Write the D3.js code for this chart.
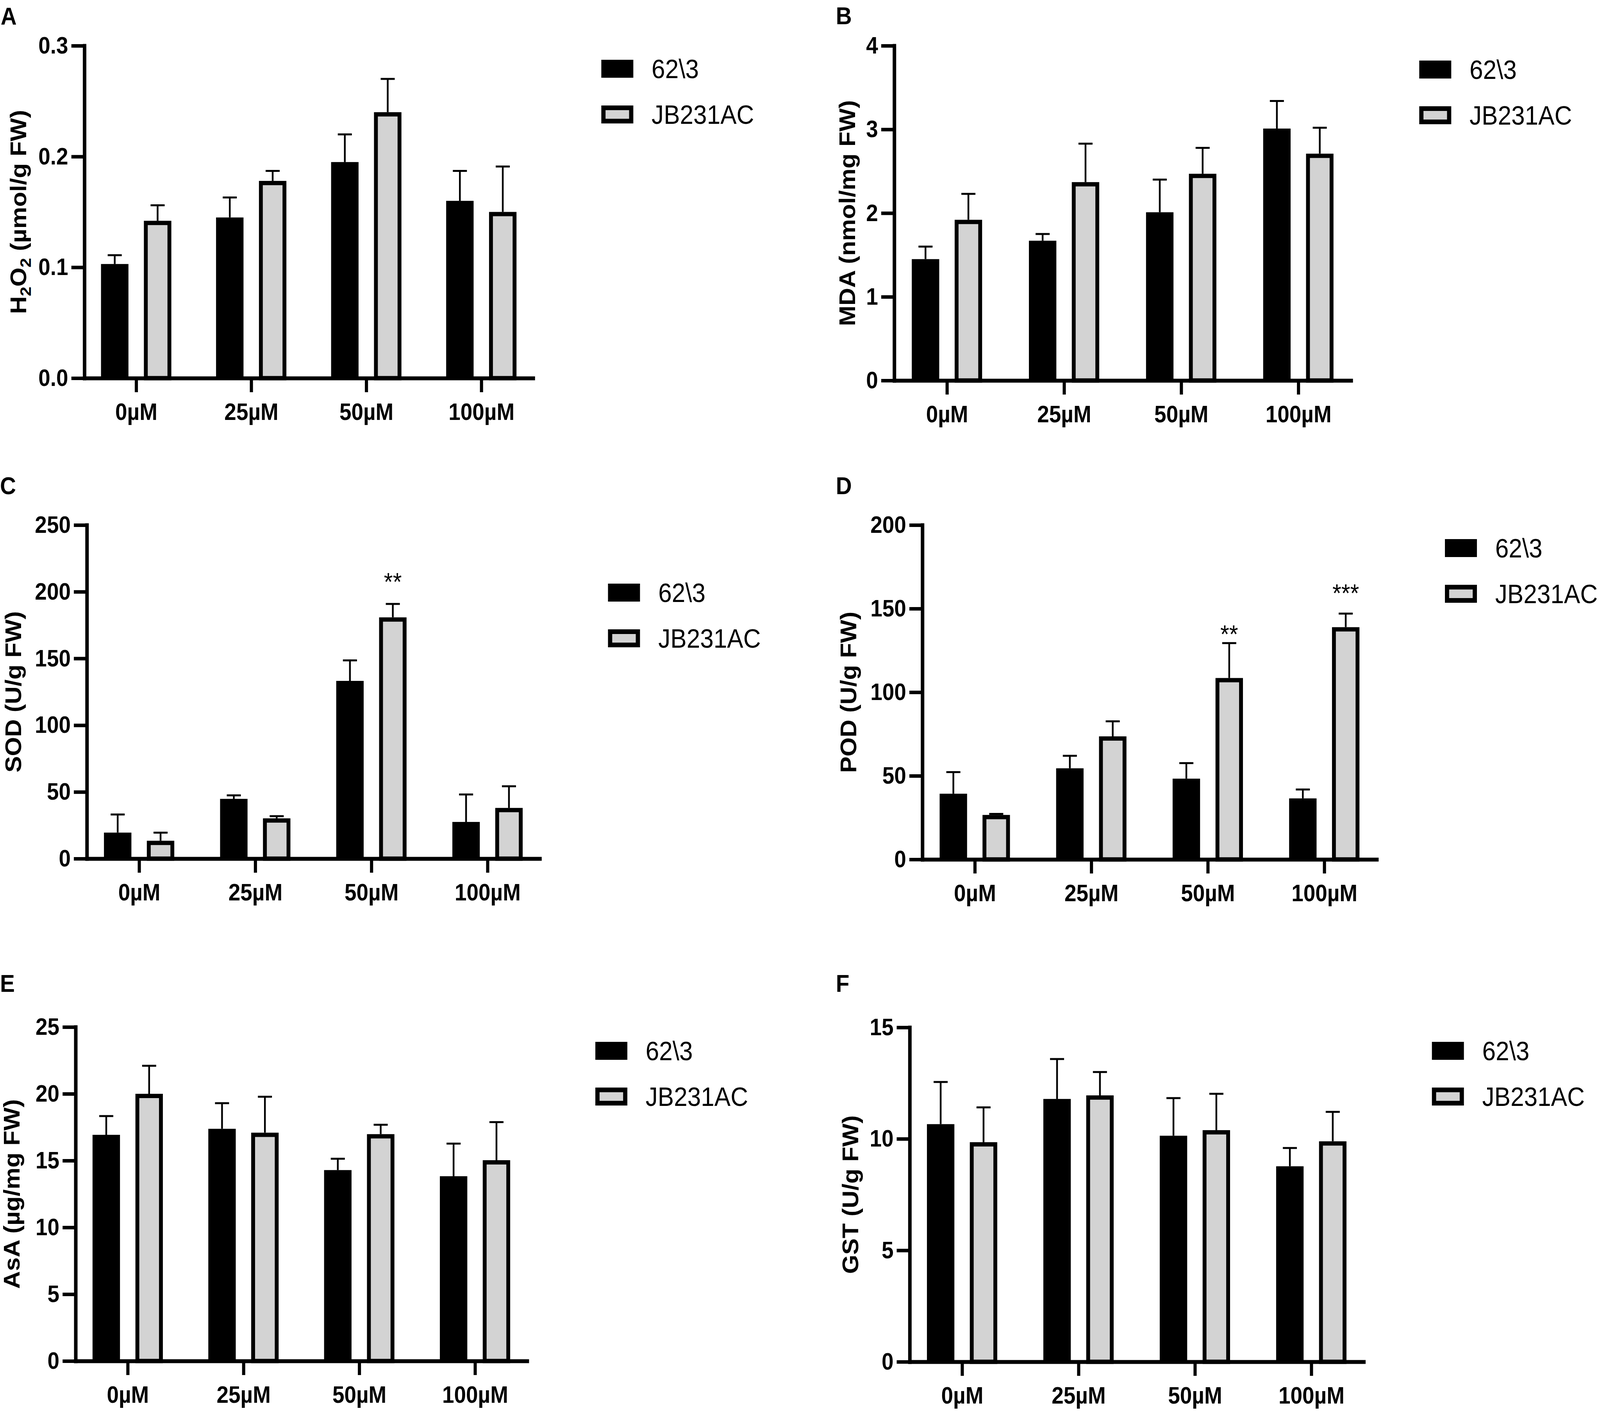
<!DOCTYPE html>
<html>
<head>
<meta charset="utf-8">
<script src="https://cdn.jsdelivr.net/npm/d3@7"></script>
<style>
  html, body { margin: 0; padding: 0; background: #fff; overflow: hidden; }
  svg { display: block; }
</style>
</head>
<body>
<svg id="fig"></svg>
<script>
// Data
const categories = ['0µM', '25µM', '50µM', '100µM'];
const seriesNames = ['62\\3', 'JB231AC'];

const h2o2Black = [0.103, 0.145, 0.195, 0.160];
const h2o2BlackSd = [0.008, 0.018, 0.025, 0.027];
const h2o2Gray = [0.142, 0.178, 0.240, 0.150];
const h2o2GraySd = [0.014, 0.009, 0.030, 0.041];
const h2o2Ticks = [0, 0.1, 0.2, 0.3];

const mdaBlack = [1.45, 1.67, 2.01, 3.01];
const mdaBlackSd = [0.15, 0.08, 0.39, 0.33];
const mdaGray = [1.92, 2.37, 2.47, 2.71];
const mdaGraySd = [0.31, 0.46, 0.31, 0.31];
const mdaTicks = [0, 1, 2, 3, 4];

const sodBlack = [19.5, 44.8, 133.2, 27.5];
const sodBlackSd = [13.6, 2.6, 15.4, 20.6];
const sodGray = [13.4, 30.2, 180.8, 38.0];
const sodGraySd = [6.1, 1.6, 10.1, 16.2];
const sodTicks = [0, 50, 100, 150, 200, 250];

const podBlack = [39.3, 54.5, 48.3, 36.5];
const podBlackSd = [12.9, 7.5, 9.3, 5.3];
const podGray = [26.6, 73.6, 108.5, 138.9];
const podGraySd = [0.6, 9.0, 20.9, 8.1];
const podTicks = [0, 50, 100, 150, 200];

const asaBlack = [16.93, 17.38, 14.29, 13.83];
const asaBlackSd = [1.40, 1.92, 0.85, 2.44];
const asaGray = [20.0, 17.09, 16.98, 15.03];
const asaGraySd = [2.10, 2.69, 0.70, 2.85];
const asaTicks = [0, 5, 10, 15, 20, 25];

const gstBlack = [10.66, 11.79, 10.14, 8.77];
const gstBlackSd = [1.89, 1.79, 1.69, 0.82];
const gstGray = [9.85, 11.95, 10.39, 9.89];
const gstGraySd = [1.56, 1.05, 1.63, 1.32];
const gstTicks = [0, 5, 10, 15];

// significance marks: panel, category, label, height in data units
const sigMarks = [
    { panel: 'C', cat: '50µM', text: '**', at: 211.7 },
    { panel: 'D', cat: '50µM', text: '**', at: 138 },
    { panel: 'D', cat: '100µM', text: '***', at: 162.6 }
];

// Panel definitions (data + placement)
const panels = [
    { letter: 'A', title: [['H'], ['2', 1], ['O'], ['2', 1], [' (µmol/g FW)']],
      black: h2o2Black, blackSd: h2o2BlackSd, gray: h2o2Gray, graySd: h2o2GraySd,
      ticks: h2o2Ticks, fmt: d3.format('.1f'),
      left: 240, right: 1516, top: 117, bottom: 968, legendTop: 153,
      titleX: 74, letterX: 2, letterY: 63 },
    { letter: 'B', title: [['MDA (nmol/mg FW)']],
      black: mdaBlack, blackSd: mdaBlackSd, gray: mdaGray, graySd: mdaGraySd,
      ticks: mdaTicks, fmt: d3.format('d'),
      left: 2543, right: 3842, top: 117, bottom: 974, legendTop: 155,
      titleX: 2432, letterX: 2377, letterY: 62 },
    { letter: 'C', title: [['SOD (U/g FW)']],
      black: sodBlack, blackSd: sodBlackSd, gray: sodGray, graySd: sodGraySd,
      ticks: sodTicks, fmt: d3.format('d'),
      left: 247, right: 1535, top: 1344, bottom: 2198, legendTop: 1494,
      titleX: 60, letterX: 0, letterY: 1265 },
    { letter: 'D', title: [['POD (U/g FW)']],
      black: podBlack, blackSd: podBlackSd, gray: podGray, graySd: podGraySd,
      ticks: podTicks, fmt: d3.format('d'),
      left: 2623, right: 3915, top: 1344, bottom: 2200, legendTop: 1380,
      titleX: 2435, letterX: 2377, letterY: 1265 },
    { letter: 'E', title: [['AsA (µg/mg FW)']],
      black: asaBlack, blackSd: asaBlackSd, gray: asaGray, graySd: asaGraySd,
      ticks: asaTicks, fmt: d3.format('d'),
      left: 215, right: 1499, top: 2629, bottom: 3484, legendTop: 2667,
      titleX: 56, letterX: 0, letterY: 2539 },
    { letter: 'F', title: [['GST (U/g FW)']],
      black: gstBlack, blackSd: gstBlackSd, gray: gstGray, graySd: gstGraySd,
      ticks: gstTicks, fmt: d3.format('d'),
      left: 2587, right: 3878, top: 2630, bottom: 3486, legendTop: 2667,
      titleX: 2440, letterX: 2377, letterY: 2539 }
];

const WIDTH = 4550, HEIGHT = 3612;
const FONT = '"Liberation Sans", Arial, Helvetica, sans-serif';
const GRAY = '#d3d3d3';
const AXIS_W = 10, BAR_STROKE = 11, ERR_W = 5;

// Fit the whole figure into whatever viewport the page gets
const svg = d3.select('#fig')
    .attr('viewBox', `0 0 ${WIDTH} ${HEIGHT}`)
    .attr('preserveAspectRatio', 'none')
    .style('width', '100vw')
    .style('height', '100vh')
    .style('font-family', FONT);

svg.append('rect').attr('width', WIDTH).attr('height', HEIGHT).attr('fill', '#fff');

function drawPanel(p) {
    const g = svg.append('g').attr('class', 'panel-' + p.letter);

    // Scales
    const x = d3.scalePoint().domain(categories).range([p.left, p.right]).padding(0.45);
    const x1 = d3.scaleBand().domain(seriesNames).range([-100, 100]).paddingInner(0.36);
    const y = d3.scaleLinear()
        .domain([0, p.ticks[p.ticks.length - 1]])
        .range([p.bottom, p.top]);

    const rows = categories.map((c, i) => ({
        cat: c,
        vals: [
            { s: seriesNames[0], v: p.black[i], sd: p.blackSd[i] },
            { s: seriesNames[1], v: p.gray[i], sd: p.graySd[i] }
        ]
    }));

    const groups = g.selectAll('g.grp')
        .data(rows)
        .enter()
        .append('g')
            .attr('class', 'grp')
            .attr('transform', d => `translate(${x(d.cat)},0)`);

    const bw = x1.bandwidth();
    const isBlack = d => d.s === seriesNames[0];

    // Bars (the light bars carry a thick black outline)
    groups.selectAll('rect.bar')
        .data(d => d.vals)
        .enter()
        .append('rect')
            .attr('class', 'bar')
            .attr('x', d => isBlack(d) ? x1(d.s) : x1(d.s) + BAR_STROKE / 2)
            .attr('y', d => isBlack(d) ? y(d.v) : y(d.v) + BAR_STROKE / 2)
            .attr('width', d => isBlack(d) ? bw : bw - BAR_STROKE)
            .attr('height', d => isBlack(d) ? p.bottom - y(d.v) : p.bottom - y(d.v) - BAR_STROKE / 2)
            .attr('fill', d => isBlack(d) ? '#000' : GRAY)
            .attr('stroke', d => isBlack(d) ? 'none' : '#000')
            .attr('stroke-width', BAR_STROKE);

    // Error bars (upper only, with cap)
    groups.selectAll('line.err')
        .data(d => d.vals)
        .enter()
        .append('line')
            .attr('class', 'err')
            .attr('x1', d => x1(d.s) + bw / 2)
            .attr('x2', d => x1(d.s) + bw / 2)
            .attr('y1', d => y(d.v))
            .attr('y2', d => y(d.v + d.sd))
            .attr('stroke', '#000')
            .attr('stroke-width', ERR_W);

    groups.selectAll('line.cap')
        .data(d => d.vals)
        .enter()
        .append('line')
            .attr('class', 'cap')
            .attr('x1', d => x1(d.s) + bw / 2 - 20)
            .attr('x2', d => x1(d.s) + bw / 2 + 20)
            .attr('y1', d => y(d.v + d.sd))
            .attr('y2', d => y(d.v + d.sd))
            .attr('stroke', '#000')
            .attr('stroke-width', ERR_W);

    // Axes
    const yAxis = d3.axisLeft(y).tickValues(p.ticks).tickFormat(p.fmt)
        .tickSize(37).tickSizeOuter(0).tickPadding(9);
    const yAxisGroup = g.append('g')
        .attr('transform', `translate(${p.left},0)`)
        .call(yAxis);

    const xAxis = d3.axisBottom(x).tickSize(36).tickSizeOuter(0).tickPadding(28);
    const xAxisGroup = g.append('g')
        .attr('transform', `translate(0,${p.bottom})`)
        .call(xAxis);

    [yAxisGroup, xAxisGroup].forEach(ax => {
        ax.attr('font-family', FONT);
        ax.select('.domain').attr('stroke', '#000').attr('stroke-width', AXIS_W)
            .attr('stroke-linecap', 'square');
        ax.selectAll('.tick line').attr('stroke', '#000').attr('stroke-width', 9);
        ax.selectAll('.tick text')
            .attr('fill', '#000')
            .attr('font-size', 61)
            .attr('font-weight', 'bold');
    });
    xAxisGroup.selectAll('.tick text').attr('dy', '0.71em');

    // Axis title
    const title = g.append('text')
        .attr('transform', `translate(${p.titleX},${(p.top + p.bottom) / 2}) rotate(-90)`)
        .attr('text-anchor', 'middle')
        .attr('font-size', 63)
        .attr('font-weight', 'bold');
    p.title.forEach((part, i) => {
        const t = title.append('tspan').text(part[0]);
        if (part[1]) {
            t.attr('font-size', 44).attr('dy', 14);
        } else if (i > 0) {
            t.attr('dy', -14);
        }
    });

    // Panel letter
    g.append('text')
        .attr('x', p.letterX)
        .attr('y', p.letterY)
        .attr('font-size', 63)
        .attr('font-weight', 'bold')
        .text(p.letter);

    // Legend
    const lx = p.right + 194;
    const legend = g.selectAll('g.legend')
        .data(seriesNames)
        .enter()
        .append('g')
            .attr('class', 'legend')
            .attr('transform', (d, i) => `translate(${lx},${p.legendTop + i * 117})`);

    legend.append('rect')
        .attr('x', (d, i) => i === 0 ? 0 : 6)
        .attr('y', (d, i) => i === 0 ? 0 : 6)
        .attr('width', (d, i) => i === 0 ? 91 : 79)
        .attr('height', (d, i) => i === 0 ? 46 : 34)
        .attr('fill', (d, i) => i === 0 ? '#000' : GRAY)
        .attr('stroke', (d, i) => i === 0 ? 'none' : '#000')
        .attr('stroke-width', 12);

    legend.append('text')
        .attr('x', 143)
        .attr('y', 47)
        .attr('font-size', 69)
        .text(d => d);

    // Significance marks
    sigMarks.filter(m => m.panel === p.letter).forEach(m => {
        g.append('text')
            .attr('x', x(m.cat) + x1(seriesNames[1]) + bw / 2)
            .attr('y', y(m.at) + 37)
            .attr('text-anchor', 'middle')
            .attr('font-size', 65)
            .text(m.text);
    });
}

panels.forEach(drawPanel);
</script>
</body>
</html>
